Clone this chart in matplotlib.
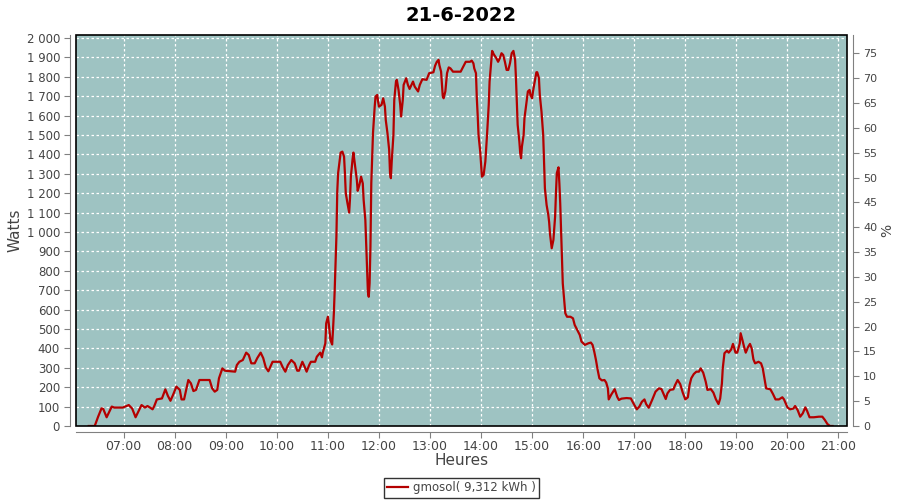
import matplotlib
matplotlib.use('Agg')
import matplotlib.pyplot as plt
import matplotlib.dates as mdates
from matplotlib.ticker import FuncFormatter, MultipleLocator
from matplotlib.patches import Rectangle
import pandas as pd

title = '21-6-2022'
series_label = 'gmosol( 9,312 kWh )'
peak_watts = 2560  # right axis: % of installed peak

times = ['06:19', '06:26', '06:30', '06:34', '06:36', '06:40', '06:46', '06:49', '06:55', '06:59',
         '07:06', '07:10', '07:14', '07:21', '07:25', '07:28', '07:31', '07:34', '07:36', '07:39',
         '07:45', '07:49', '07:52', '07:55', '07:58', '08:02', '08:06', '08:08', '08:11', '08:13',
         '08:16', '08:19', '08:22', '08:25', '08:29', '08:41', '08:44', '08:47', '08:50', '08:52',
         '08:56', '08:59', '09:11', '09:13', '09:16', '09:20', '09:24', '09:27', '09:30', '09:34',
         '09:37', '09:41', '09:44', '09:47', '09:50', '09:55', '10:04', '10:07', '10:10', '10:13',
         '10:17', '10:21', '10:24', '10:26', '10:30', '10:33', '10:35', '10:38', '10:40', '10:45',
         '10:47', '10:51', '10:53', '10:54', '10:57', '10:58', '11:00', '11:01', '11:03', '11:05',
         '11:06', '11:07', '11:08', '11:09', '11:10', '11:11', '11:12', '11:14', '11:15', '11:17',
         '11:19', '11:20', '11:21', '11:23', '11:25', '11:26', '11:27', '11:29', '11:30', '11:32',
         '11:34', '11:35', '11:37', '11:39', '11:41', '11:42', '11:44', '11:45', '11:46', '11:47',
         '11:48', '11:49', '11:50', '11:51', '11:53', '11:55', '11:56', '11:58', '11:59', '12:00',
         '12:03', '12:05', '12:07', '12:08', '12:10', '12:12', '12:13', '12:14', '12:15', '12:17',
         '12:18', '12:20', '12:21', '12:23', '12:25', '12:26', '12:28', '12:29', '12:32', '12:34',
         '12:36', '12:40', '12:42', '12:46', '12:48', '12:51', '12:56', '12:59', '13:04', '13:06',
         '13:08', '13:10', '13:11', '13:13', '13:14', '13:15', '13:16', '13:18', '13:20', '13:22',
         '13:24', '13:27', '13:36', '13:39', '13:42', '13:47', '13:49', '13:51', '13:52', '13:54',
         '13:55', '13:56', '13:57', '13:59', '14:00', '14:01', '14:03', '14:05', '14:07', '14:09',
         '14:10', '14:12', '14:13', '14:15', '14:18', '14:20', '14:22', '14:24', '14:26', '14:28',
         '14:30', '14:32', '14:34', '14:36', '14:38', '14:40', '14:41', '14:42', '14:43', '14:45',
         '14:46', '14:47', '14:48', '14:50', '14:51', '14:53', '14:55', '14:57', '14:58', '15:00',
         '15:01', '15:03', '15:05', '15:06', '15:08', '15:09', '15:11', '15:13', '15:14', '15:15',
         '15:17', '15:19', '15:20', '15:21', '15:23', '15:25', '15:27', '15:28', '15:29', '15:31',
         '15:32', '15:33', '15:34', '15:35', '15:36', '15:38', '15:39', '15:41', '15:45', '15:48',
         '15:50', '15:53', '15:56', '15:58', '16:02', '16:06', '16:09', '16:11', '16:13', '16:15',
         '16:17', '16:19', '16:22', '16:25', '16:27', '16:29', '16:30', '16:33', '16:37', '16:40',
         '16:42', '16:45', '16:51', '16:56', '16:59', '17:03', '17:06', '17:09', '17:12', '17:14',
         '17:17', '17:21', '17:25', '17:29', '17:32', '17:35', '17:37', '17:39', '17:42', '17:46',
         '17:48', '17:51', '17:54', '17:57', '18:00', '18:03', '18:05', '18:07', '18:10', '18:13',
         '18:16', '18:18', '18:21', '18:24', '18:26', '18:30', '18:33', '18:36', '18:39', '18:41',
         '18:43', '18:44', '18:46', '18:49', '18:51', '18:54', '18:56', '18:59', '19:01', '19:04',
         '19:05', '19:07', '19:09', '19:11', '19:14', '19:16', '19:18', '19:20', '19:22', '19:26',
         '19:29', '19:31', '19:33', '19:35', '19:40', '19:43', '19:46', '19:50', '19:54', '19:56',
         '20:00', '20:03', '20:07', '20:09', '20:12', '20:15', '20:18', '20:21', '20:23', '20:26',
         '20:31', '20:37', '20:41', '20:44', '20:47', '20:50', '20:53']

watts = [0, 0, 48, 91, 88, 45, 100, 95, 95, 95,
         108, 90, 45, 108, 95, 103, 95, 86, 103, 137,
         142, 189, 155, 130, 160, 203, 186, 137, 137, 177,
         237, 220, 180, 186, 237, 237, 194, 177, 186, 246,
         297, 285, 280, 314, 331, 340, 378, 366, 323, 323,
         350, 378, 350, 302, 282, 331, 331, 302, 280, 314,
         340, 323, 285, 285, 331, 302, 280, 314, 331, 331,
         357, 378, 354, 378, 426, 529, 563, 529, 443, 420,
         495, 581, 701, 839, 976, 1208, 1303, 1371, 1409, 1414,
         1388, 1303, 1200, 1148, 1100, 1174, 1285, 1375, 1409, 1337,
         1268, 1212, 1242, 1285, 1250, 1165, 1062, 942, 821, 692,
         666, 735, 924, 1251, 1509, 1646, 1698, 1706, 1672, 1646,
         1655, 1689, 1646, 1577, 1509, 1423, 1303, 1277, 1363, 1500,
         1680, 1775, 1784, 1732, 1655, 1595, 1680, 1758, 1792, 1758,
         1737, 1775, 1749, 1724, 1758, 1787, 1784, 1818, 1823, 1857,
         1877, 1887, 1860, 1826, 1758, 1698, 1689, 1724, 1818, 1848,
         1843, 1826, 1826, 1852, 1877, 1877, 1883, 1869, 1843, 1818,
         1689, 1603, 1500, 1414, 1345, 1285, 1294, 1362, 1500, 1655,
         1775, 1877, 1933, 1915, 1895, 1877, 1895, 1921, 1912, 1877,
         1835, 1835, 1870, 1921, 1933, 1887, 1792, 1672, 1552, 1466,
         1406, 1380, 1440, 1500, 1586, 1655, 1724, 1732, 1706, 1689,
         1724, 1775, 1823, 1823, 1792, 1706, 1620, 1500, 1362, 1225,
         1139, 1088, 1050, 990, 916, 959, 1079, 1200, 1303, 1333,
         1251, 1148, 1010, 890, 735, 632, 581, 563, 563, 555,
         521, 495, 469, 435, 418, 426, 430, 418, 383, 340,
         289, 246, 235, 237, 224, 194, 137, 162, 190, 150,
         134, 141, 144, 142, 117, 86, 100, 125, 137, 113,
         94, 134, 177, 194, 190, 160, 139, 168, 186, 189,
         211, 237, 216, 172, 137, 148, 211, 246, 268, 280,
         280, 297, 275, 228, 186, 190, 172, 137, 113, 142,
         220, 297, 375, 388, 378, 395, 423, 378, 378, 426,
         478, 445, 409, 378, 409, 423, 400, 344, 323, 331,
         323, 297, 246, 194, 189, 165, 137, 137, 148, 137,
         96, 86, 90, 103, 82, 48, 65, 96, 79, 45,
         45, 48, 48, 31, 10, 0, 0]

day = '2022-06-21 '
x = pd.to_datetime([day + t for t in times])

text_color = '#444444'
plt.rcParams['font.family'] = 'DejaVu Sans'

fig = plt.figure(figsize=(9, 5), dpi=100)
ax = fig.add_axes([76 / 900, 1 - 426 / 500, (847 - 76) / 900, (426 - 35) / 500])
ax.set_facecolor('#9ec3c2')

line, = ax.plot(x, watts, color='#b40000', linewidth=1.6, label=series_label)

ax.set_xlim(pd.Timestamp(day + '06:04'), pd.Timestamp(day + '21:10'))
ax.set_ylim(0, 2015)
ax.yaxis.set_major_locator(MultipleLocator(100))
ax.yaxis.set_major_formatter(FuncFormatter(lambda v, p: f'{int(v):,}'.replace(',', ' ')))
ax.xaxis.set_major_locator(mdates.HourLocator())
ax.xaxis.set_major_formatter(mdates.DateFormatter('%H:%M'))

ax.grid(True, color='white', linestyle=(0, (2, 2)), linewidth=0.9)
ax.set_axisbelow(True)

for s in ['top', 'right']:
    ax.spines[s].set_visible(False)
for s in ['left', 'bottom']:
    ax.spines[s].set_position(('outward', 4))
    ax.spines[s].set_color('#808080')
ax.tick_params(colors='#808080', labelcolor=text_color, labelsize=8.5, length=4)
ax.tick_params(axis='x', pad=2, labelsize=9)

# black outline around the plot area
ax.add_patch(Rectangle((0, 0), 1, 1, transform=ax.transAxes, fill=False,
                       edgecolor='black', linewidth=1.2, zorder=5, clip_on=False))

ax2 = ax.twinx()
ax2.set_ylim(0, 2015 / peak_watts * 100)
ax2.yaxis.set_major_locator(MultipleLocator(5))
for s in ['top', 'left', 'bottom']:
    ax2.spines[s].set_visible(False)
ax2.spines['right'].set_position(('outward', 4))
ax2.spines['right'].set_color('#808080')
ax2.tick_params(colors='#808080', labelcolor=text_color, labelsize=8, length=4)
ax2.set_ylabel('%', color=text_color, fontsize=10)
ax2.yaxis.set_label_coords(1.043, 0.5)

ax.set_ylabel('Watts', color=text_color, fontsize=11)
ax.yaxis.set_label_coords(-0.069, 0.5)
ax.set_xlabel('Heures', color=text_color, fontsize=11)
ax.xaxis.set_label_coords(0.5, -0.069)
ax.set_title(title, fontsize=14, fontweight='bold', pad=10)

leg = ax.legend(handles=[line], loc='center', bbox_to_anchor=(0.5, -0.158),
                fancybox=False, edgecolor='black', fontsize=8.5, handlelength=1.8,
                borderpad=0.3, handletextpad=0.4, borderaxespad=0, labelcolor=text_color)
leg.get_frame().set_linewidth(1.0)

plt.savefig('out.png', dpi=100)
